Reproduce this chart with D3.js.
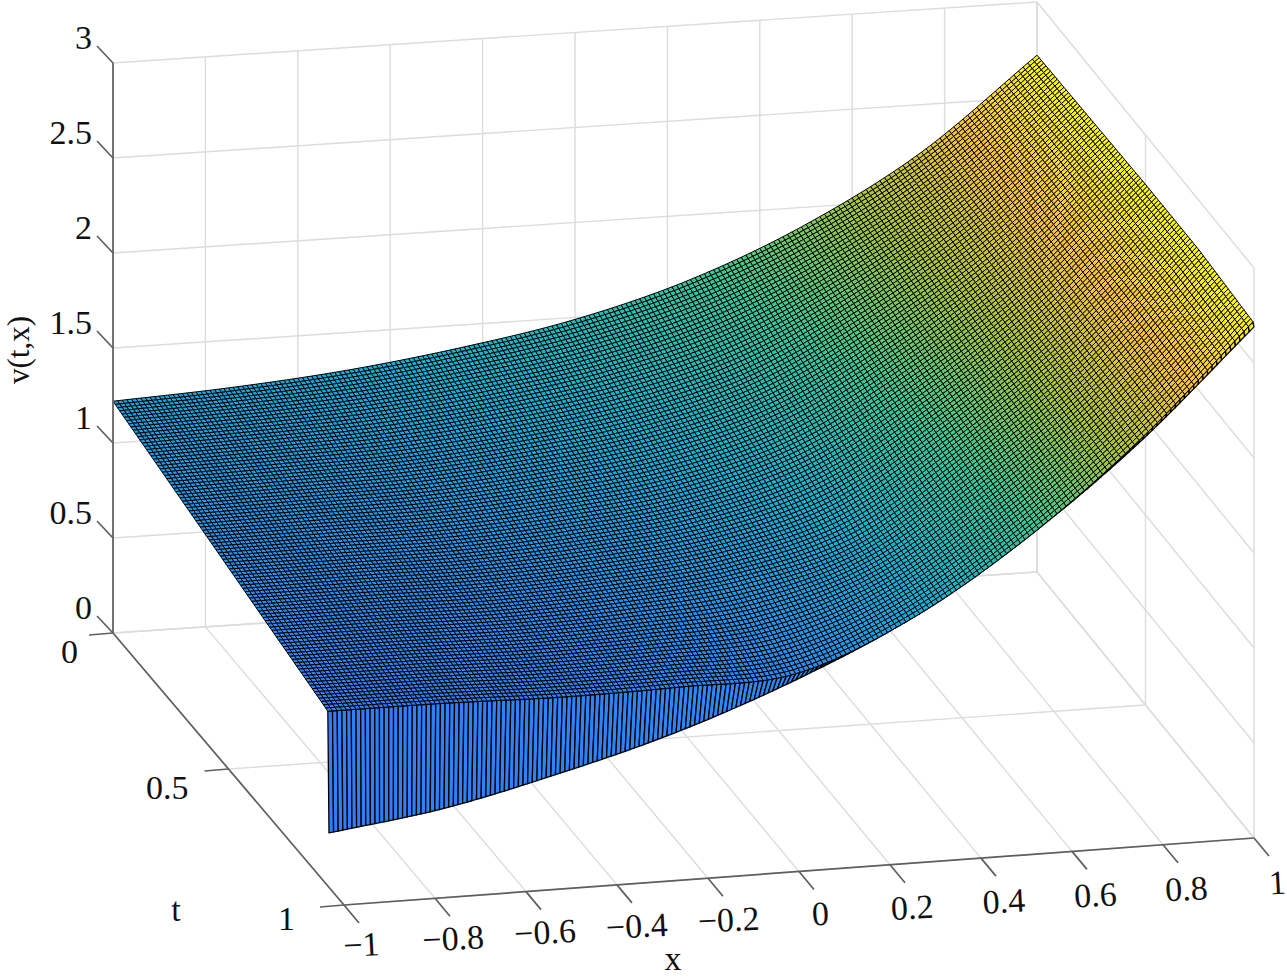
<!DOCTYPE html>
<html><head><meta charset="utf-8">
<script src="https://cdn.jsdelivr.net/npm/d3@7"></script>
<style>html,body{margin:0;background:#fff}svg{display:block}text{font-family:"Liberation Serif",serif;fill:#111}</style>
</head><body><svg id="c" width="1287" height="977"></svg>
<script>
// Values
const xTicks=[-1,-0.8,-0.6,-0.4,-0.2,0,0.2,0.4,0.6,0.8,1];
const tTicks=[0,0.5,1];
const zTicks=[0,0.5,1,1.5,2,2.5,3];
const xCols=[-1,-0.75,-0.5,-0.25,0,0.25,0.5,0.75,1];
const rowFractions=[0,0.25,0.5,0.75,1];
const zRow0=[1.22,1.25,1.30,1.38,1.49,1.66,1.91,2.25,2.72];
const zRow1=[1.145,1.17,1.20,1.27,1.37,1.54,1.84,2.22,2.73];
const zRow2=[1.07,1.09,1.11,1.17,1.26,1.44,1.77,2.19,2.74];
const zRow3=[0.995,1.015,1.03,1.08,1.16,1.33,1.71,2.16,2.74];
const zRow4=[0.92,0.94,0.95,0.98,1.02,1.27,1.65,2.13,2.71];
const tFold=[0.93,0.945,0.96,0.975,0.985,0.99,0.993,0.995,0.995];
const xBottom=[-1.033,-0.78,-0.525,-0.27,-0.017,0.24,0.49,0.745,1];
const zBottom=[0.385,0.47,0.61,0.78,1.00,1.28,1.65,2.12,2.69];
const parulaStops=["#3e26a8","#4752f4","#2d87f7","#12b1d6","#37c897","#abc739","#fec338","#f9fb15"];
const zRange=[0.28,2.74];

const nCols=200,nRows=96;
const svg=d3.select("#c");
// view of the axes box
const corner={a:[113,633],b:[1037,572],c:[344,905],d:[1254,838]};
const xS=d3.scaleLinear().domain([-1,1]).range([0,1]);
const tS=d3.scaleLinear().domain([0,1]).range([0,1]);
const zS=d3.scaleLinear().domain([0,3]).range([0,-570]);
function P(x,t,z){
  const u=xS(x),v=tS(t);
  const L=d3.interpolate(corner.a,corner.c)(v),R=d3.interpolate(corner.b,corner.d)(v);
  const p=d3.interpolate(L,R)(u);
  return [p[0],p[1]+zS(z)];
}
const line=d3.line();
const gridG=svg.append("g").attr("fill","none").attr("stroke","#dcdcdc").attr("stroke-width",1.4);
function seg(g,pts){g.append("path").attr("d",line(pts));}
xTicks.forEach(x=>{seg(gridG,[P(x,0,0),P(x,1,0)]);seg(gridG,[P(x,0,0),P(x,0,3)]);});
tTicks.forEach(t=>{seg(gridG,[P(-1,t,0),P(1,t,0)]);seg(gridG,[P(1,t,0),P(1,t,3)]);});
zTicks.forEach(z=>{seg(gridG,[P(-1,0,z),P(1,0,z)]);seg(gridG,[P(1,0,z),P(1,1,z)]);});

// smooth resampling of a read row across the columns
const colPos=d3.scaleLinear().domain(d3.extent(xCols)).range([0,xCols.length-1]);
function along(arr,x){
  const f=colPos(x),n=arr.length,i=Math.min(Math.floor(f),n-2),s=f-i;
  const p1=arr[i],p2=arr[i+1];
  const p0=i>0?arr[i-1]:2*p1-p2, p3=i+2<n?arr[i+2]:2*p2-p1;
  return 0.5*((2*p1)+(-p0+p2)*s+(2*p0-5*p1+4*p2-p3)*s*s+(-p0+3*p1-3*p2+p3)*s*s*s);
}
const zRows=[zRow0,zRow1,zRow2,zRow3,zRow4];
function zAt(x,fr){
  const g=fr*(rowFractions.length-1),j=Math.min(Math.floor(g),rowFractions.length-2),s=g-j;
  return along(zRows[j],x)*(1-s)+along(zRows[j+1],x)*s;
}
const colour=d3.scaleLinear().domain(d3.range(8).map(i=>zRange[0]+(zRange[1]-zRange[0])*i/7)).range(parulaStops).clamp(true);
const xs=d3.range(nCols+1).map(i=>-1+2*i/nCols);
const curtain=[],cells=[];
xs.slice(0,-1).forEach((x,i)=>{
  const x2=xs[i+1];
  const top=a=>P(a,along(tFold,a),zAt(a,1));
  const bot=a=>{const b=along(xBottom,a);return P(b,1,along(zBottom,a));};
  curtain.push({pts:[top(x),top(x2),bot(x2),bot(x)],z:zAt(x,1)});
  for(let j=0;j<nRows;j++){
    const f1=j/nRows,f2=(j+1)/nRows;
    const q=(a,f)=>P(a,along(tFold,a)*f,zAt(a,f));
    cells.push({pts:[q(x,f1),q(x2,f1),q(x2,f2),q(x,f2)],z:zAt(x,f1)});
  }
});
const surf=svg.append("g").attr("stroke","#000").attr("stroke-linejoin","round");
surf.selectAll("path.k").data(curtain).join("path").attr("class","k").attr("stroke-width",1.3)
  .attr("d",d=>line(d.pts)+"Z").attr("fill",d=>colour(d.z));
surf.selectAll("path.m").data(cells).join("path").attr("class","m").attr("stroke-width",1.0)
  .attr("d",d=>line(d.pts)+"Z").attr("fill",d=>colour(d.z));

// axes
const ax=svg.append("g").attr("fill","none").attr("stroke","#5f5f5f").attr("stroke-width",1.7);
seg(ax,[P(-1,0,0),P(-1,0,3)]);
seg(ax,[P(-1,0,0),P(-1,1,0)]);
seg(ax,[P(-1,1,0),P(1,1,0)]);
zTicks.forEach(z=>{const p=P(-1,0,z);seg(ax,[p,[p[0]-16,p[1]-17]]);});
xTicks.forEach(x=>{const p=P(x,1,0);seg(ax,[p,[p[0]+15,p[1]+18]]);});
tTicks.forEach(t=>{const p=P(-1,t,0);seg(ax,[p,[p[0]-24,p[1]+2]]);});

const fs=34;
const T=(s,x,y,anchor,rot)=>{
  const e=svg.append("text").attr("x",x).attr("y",y).attr("font-size",fs).attr("text-anchor",anchor||"middle").text(s);
  if(rot)e.attr("transform",`rotate(${rot} ${x} ${y})`);
  return e;
};
const fmt=v=>String(v).replace("-","\u2212");
zTicks.forEach(z=>{const p=P(-1,0,z);T(fmt(z),p[0]-21,p[1]-14,"end");});
xTicks.forEach(x=>{const p=P(x,1,0);T(fmt(x),p[0]+Math.min(22+4*x,24),p[1]+51+(x+1)*2.5,"middle",-3);});
tTicks.forEach((t,i)=>{const p=P(-1,t,0);T(fmt(t),p[0]-[35,40,49][i],p[1]+[30,30,25][i],"end");});
T("t",176,921);
T("x",673,970);
T("v(t,x)",29,350,"middle",-90).attr("font-size",31);
</script></body></html>
